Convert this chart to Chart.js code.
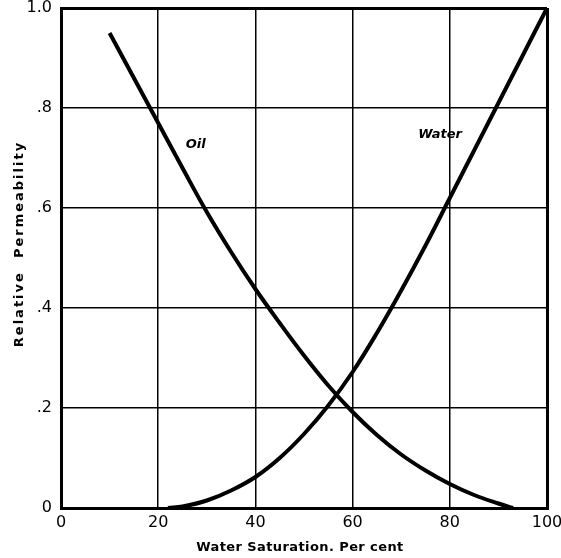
<!DOCTYPE html>
<html>
<head>
<meta charset="utf-8">
<script src="https://cdn.jsdelivr.net/npm/chart.js@4/dist/chart.umd.min.js"></script>
<style>
  html, body { margin: 0; padding: 0; background: #fff; }
  #chart { display: block; }
</style>
</head>
<body>
<canvas id="chart" width="561" height="558"></canvas>
<script>
// relative permeability curves, water saturation in per cent
const oil_saturation = [10, 15, 20, 25, 30, 35, 40, 45, 50, 55, 60, 65, 70, 75, 80, 85, 90, 93]
const oil_values = [0.95, 0.86, 0.77, 0.68, 0.592, 0.512, 0.438, 0.37, 0.305, 0.245, 0.192, 0.146, 0.107, 0.075, 0.048, 0.026, 0.009, 0]

const water_saturation = [22, 25, 30, 35, 40, 45, 50, 55, 60, 65, 70, 75, 80, 85, 90, 95, 100]
const water_values = [0, 0.003, 0.015, 0.035, 0.062, 0.1, 0.148, 0.205, 0.272, 0.35, 0.435, 0.525, 0.62, 0.715, 0.81, 0.905, 1.0]

const x_ticks = [0, 20, 40, 60, 80, 100]
const y_ticks = [0, 0.2, 0.4, 0.6, 0.8, 1.0]
const y_tick_labels = ['0', '.2', '.4', '.6', '.8', '1.0']

const x_title = 'Water Saturation. Per cent'
const y_title = 'Relative  Permeability'

const curve_labels = [
    {text: 'Oil', x: 27.7, y: 0.726},
    {text: 'Water', x: 78, y: 0.746}
]

const FONT = 'DejaVu Sans'

function points(xs, ys) {
    return xs.map((x, i) => ({x: x, y: ys[i]}))
}

// curve names and spaced-out axis titles
const textPlugin = {
    id: 'texts',
    afterDatasetsDraw(chart) {
        let ctx = chart.ctx
        let area = chart.chartArea
        ctx.save()
        ctx.fillStyle = '#000'
        ctx.textAlign = 'center'
        ctx.textBaseline = 'middle'
        ctx.font = 'italic bold 13px "' + FONT + '"'
        curve_labels.forEach(l => {
            ctx.fillText(l.text, chart.scales.x.getPixelForValue(l.x), chart.scales.y.getPixelForValue(l.y))
        })
        ctx.font = 'bold 13px "' + FONT + '"'
        ctx.letterSpacing = '0.4px'
        ctx.fillText(x_title, (area.left + area.right) / 2 - 4, 548)
        ctx.letterSpacing = '2px'
        ctx.translate(20, 244)
        ctx.rotate(-Math.PI / 2)
        ctx.fillText(y_title, 0, 0)
        ctx.restore()
    }
}

function edge_width(max) {
    return c => (c.tick && (c.tick.value === max || c.tick.value === 0)) ? 3 : 1.5
}

new Chart(document.getElementById('chart').getContext('2d'), {
    'type': 'line',
    'data': {
        'datasets': [{
            'data': points(oil_saturation, oil_values),
            'borderColor': '#000',
            'borderWidth': 4,
            'tension': 0.4
        }, {
            'data': points(water_saturation, water_values),
            'borderColor': '#000',
            'borderWidth': 4,
            'tension': 0.4
        }]
    },
    'options': {
        'animation': false,
        'responsive': false,
        'elements': {'point': {'radius': 0}},
        'layout': {'padding': {'top': 8, 'right': 14, 'left': 0, 'bottom': 0}},
        'plugins': {'legend': {'display': false}, 'tooltip': {'enabled': false}},
        'scales': {
            'x': {
                'type': 'linear',
                'min': 0,
                'max': 100,
                'afterBuildTicks': s => { s.ticks = x_ticks.map(v => ({value: v})) },
                'afterFit': s => { s.height = 50; s.paddingLeft = 0; s.paddingRight = 0 },
                'ticks': {
                    'color': '#000',
                    'font': {'family': FONT, 'size': 16},
                    'padding': 5,
                    'maxRotation': 0
                },
                'grid': {
                    'color': '#000',
                    'lineWidth': edge_width(100),
                    'drawTicks': false
                },
                'border': {'display': true, 'color': '#000', 'width': 3}
            },
            'y': {
                'type': 'linear',
                'min': 0,
                'max': 1,
                'afterBuildTicks': s => { s.ticks = y_ticks.map(v => ({value: v})) },
                'afterFit': s => { s.width = 61; s.paddingTop = 0; s.paddingBottom = 0 },
                'ticks': {
                    'color': '#000',
                    'font': {'family': FONT, 'size': 16},
                    'padding': 9,
                    'callback': (v) => y_tick_labels[y_ticks.findIndex(t => Math.abs(t - v) < 1e-6)]
                },
                'grid': {
                    'color': '#000',
                    'lineWidth': edge_width(1),
                    'drawTicks': false
                },
                'border': {'display': true, 'color': '#000', 'width': 3}
            }
        }
    },
    'plugins': [textPlugin]
})
</script>
</body>
</html>
